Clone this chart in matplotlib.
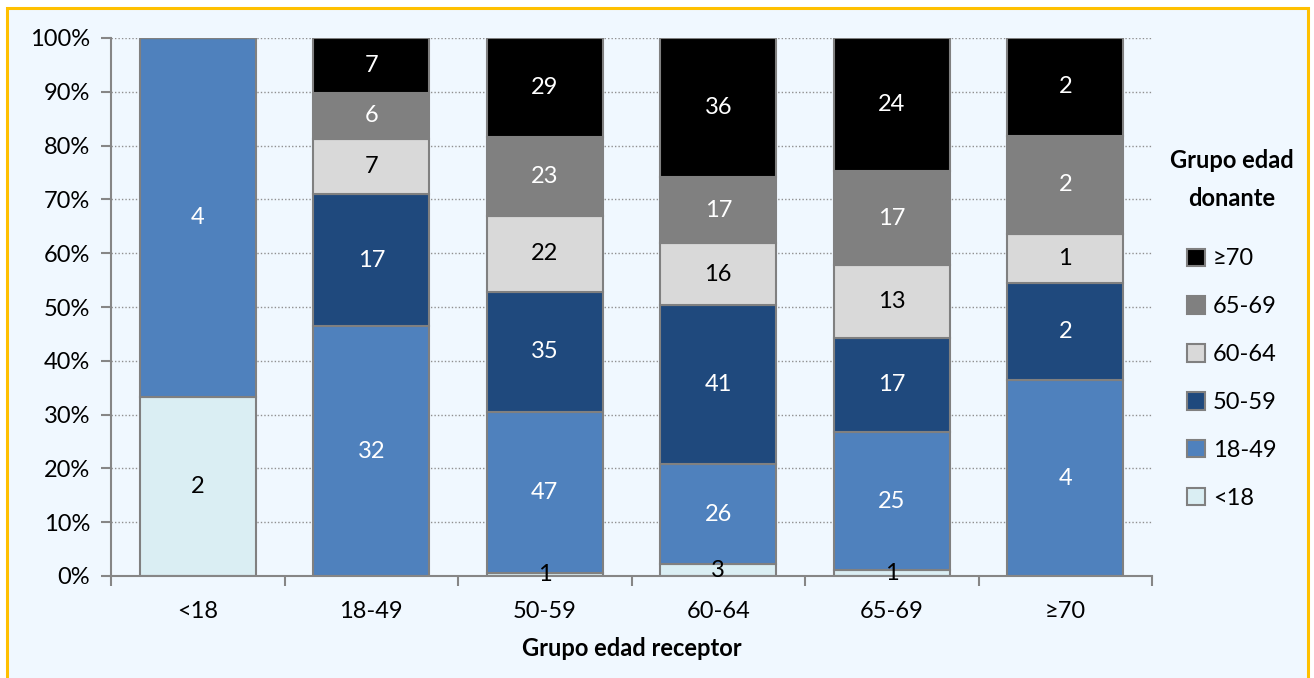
import matplotlib
matplotlib.use("Agg")
import matplotlib.pyplot as plt
import numpy as np
from matplotlib.patches import Rectangle, Patch

plt.rcParams['font.family'] = ['Lato', 'DejaVu Sans']

categories = ['<18', '18-49', '50-59', '60-64', '65-69', '≥70']
series_names = ['<18', '18-49', '50-59', '60-64', '65-69', '≥70']
s_lt18 = [2, 0, 1, 3, 1, 0]
s_18_49 = [4, 32, 47, 26, 25, 4]
s_50_59 = [0, 17, 35, 41, 17, 2]
s_60_64 = [0, 7, 22, 16, 13, 1]
s_65_69 = [0, 6, 23, 17, 17, 2]
s_ge70 = [0, 7, 29, 36, 24, 2]
series = [s_lt18, s_18_49, s_50_59, s_60_64, s_65_69, s_ge70]
colors = ['#DAEEF3', '#4F81BD', '#1F497D', '#D9D9D9', '#808080', '#000000']
text_colors = ['black', 'white', 'white', 'black', 'white', 'white']

FS = 17
W, H = 1314, 678
fig = plt.figure(figsize=(W / 100, H / 100), dpi=100, facecolor='white')
bg = Rectangle((7 / W, -0.05), (1308 - 7) / W, (H - 8) / H + 0.05,
               transform=fig.transFigure, facecolor='#F0F8FF',
               edgecolor='#FFC000', linewidth=2.2, zorder=-10)
fig.patches.append(bg)

ax = fig.add_axes([111 / W, 1 - 576 / H, (1152 - 111) / W, (576 - 38) / H])
ax.set_facecolor('none')

data = np.array(series, dtype=float)
totals = data.sum(axis=0)
pct = data / totals * 100
x = np.arange(len(categories))
bottom = np.zeros(len(categories))
for i, name in enumerate(series_names):
    ax.bar(x, pct[i], bottom=bottom, width=0.67, color=colors[i],
           edgecolor='#808080', linewidth=1.5, label=name, zorder=3)
    for j in range(len(categories)):
        if data[i, j] > 0:
            ax.text(x[j], bottom[j] + pct[i, j] / 2, f"{int(data[i, j])}",
                    ha='center', va='center', color=text_colors[i],
                    fontsize=FS, zorder=5)
    bottom += pct[i]

ax.set_xlim(-0.5, len(categories) - 0.5)
ax.set_ylim(0, 100)
ax.set_yticks(np.arange(0, 101, 10))
ax.set_yticklabels([f"{v}%" for v in range(0, 101, 10)], fontsize=FS)
ax.set_xticks(x)
ax.set_xticklabels(categories, fontsize=FS)
ax.set_xticks(np.arange(-0.5, len(categories)), minor=True)
ax.tick_params(axis='x', which='major', length=0, pad=18)
ax.tick_params(axis='x', which='minor', length=7, color='#868686', width=1.5, direction='out')
ax.tick_params(axis='y', length=7, color='#868686', width=1.5, direction='out', pad=8)
ax.grid(axis='y', linestyle=(0, (1, 1.5)), color='#909090', linewidth=1, zorder=0)
for side in ['top', 'right']:
    ax.spines[side].set_visible(False)
for side in ['left', 'bottom']:
    ax.spines[side].set_color('#868686')
    ax.spines[side].set_linewidth(1.5)
    ax.spines[side].set_zorder(4)

ax.set_xlabel('Grupo edad receptor', fontsize=FS, fontweight='bold', labelpad=11)

handles = [Patch(facecolor=colors[i], edgecolor='#808080', linewidth=1.5)
           for i in range(len(series_names))][::-1]
leg = fig.legend(handles, series_names[::-1], loc='upper center',
                 bbox_to_anchor=(1232 / W, 1 - 128 / H), frameon=False,
                 fontsize=FS, handlelength=0.75, handleheight=0.75,
                 handletextpad=0.35, labelspacing=1.14,
                 title='Grupo edad\ndonante',
                 title_fontproperties={'weight': 'bold', 'size': FS})
leg.get_title().set_multialignment('center')
leg.get_title().set_linespacing(1.75)
leg._legend_box.sep = 28

fig.savefig('out.png', dpi=100, facecolor='white')
